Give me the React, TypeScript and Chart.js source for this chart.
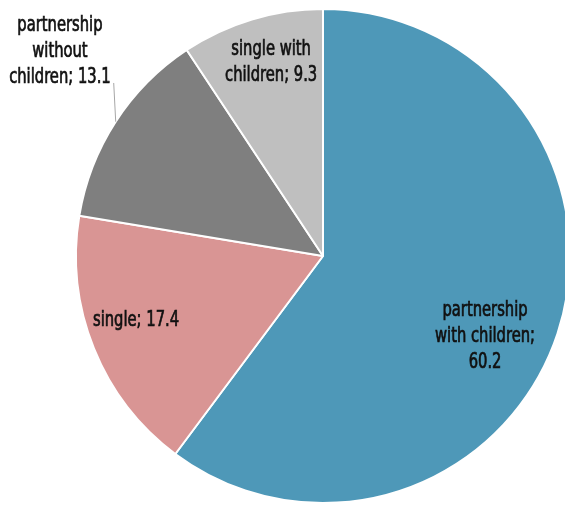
import React, { useEffect, useRef } from "react";
import { Chart, registerables } from "chart.js";

Chart.register(...registerables);

const categories = [
  "partnership with children",
  "single",
  "partnership without children",
  "single with children",
];
const values = [60.2, 17.4, 13.1, 9.3];
const colors = ["#4E98B8", "#D99594", "#7F7F7F", "#BFBFBF"];

const labelLines = [
  ["partnership", "with children;", "60.2"],
  ["single; 17.4"],
  ["partnership", "without", "children; 13.1"],
  ["single with", "children; 9.3"],
];
const labelOffsets = [
  [0.656, 0.328],
  [-0.757, 0.262],
  [-1.065, -0.826],
  [-0.21, -0.782],
];
const leader = [false, false, true, false];

const RADIUS = 247;
const CANVAS_W = 646;
const CANVAS_H = 512;
const FONT = 'condensed 21px "DejaVu Sans", sans-serif';
const TEXT_SCALE_X = 0.78;
const LINE_H = 26;
const TEXT_COLOR = "#111";

const labelPlugin = {
  id: "pieLabels",
  afterDraw(chart: any) {
    const ctx = chart.ctx;
    const meta = chart.getDatasetMeta(0);
    ctx.save();
    ctx.font = FONT;
    try { (ctx as any).fontStretch = "condensed"; } catch (e) {}
    ctx.textAlign = "center";
    ctx.textBaseline = "middle";
    meta.data.forEach((arc: any, i: number) => {
      const { x, y, outerRadius, startAngle, endAngle } = arc.getProps(
        ["x", "y", "outerRadius", "startAngle", "endAngle"],
        true
      );
      const lx = x + labelOffsets[i][0] * outerRadius;
      const ly = y + labelOffsets[i][1] * outerRadius;
      const lines = labelLines[i];
      const top = ly - ((lines.length - 1) * LINE_H) / 2;
      lines.forEach((t, k) => {
        ctx.save();
        ctx.translate(lx, top + k * LINE_H);
        ctx.scale(TEXT_SCALE_X, 1);
        ctx.fillStyle = TEXT_COLOR;
        ctx.strokeStyle = TEXT_COLOR;
        ctx.lineWidth = 0.7;
        ctx.fillText(t, 0, 0);
        ctx.strokeText(t, 0, 0);
        ctx.restore();
      });
      if (leader[i]) {
        const mid = (startAngle + endAngle) / 2;
        const ex = x + Math.cos(mid) * outerRadius;
        const ey = y + Math.sin(mid) * outerRadius;
        const lastW = ctx.measureText(lines[lines.length - 1]).width * TEXT_SCALE_X;
        const sx = lx + lastW / 2 + 3;
        const sy = top + (lines.length - 1) * LINE_H + 5;
        ctx.save();
        ctx.strokeStyle = "#A6A6A6";
        ctx.lineWidth = 1;
        ctx.beginPath();
        ctx.moveTo(sx, sy);
        ctx.lineTo(ex, ey);
        ctx.stroke();
        ctx.restore();
      }
    });
    ctx.restore();
  },
};

export default function App() {
  const ref = useRef<HTMLCanvasElement>(null);
  useEffect(() => {
    if (!ref.current) return;
    const chart = new Chart(ref.current, {
      type: "pie",
      data: {
        labels: categories,
        datasets: [
          {
            data: values,
            backgroundColor: colors,
            borderColor: "#FFFFFF",
            borderWidth: 2,
          },
        ],
      },
      options: {
        responsive: false,
        animation: false,
        radius: RADIUS,
        layout: { padding: 0 },
        plugins: {
          legend: { display: false },
          tooltip: { enabled: false },
        },
      } as any,
      plugins: [labelPlugin],
    });
    return () => chart.destroy();
  }, []);
  return (
    <div
      style={{
        position: "fixed",
        left: 0,
        top: 0,
        width: 565,
        height: 505,
        overflow: "hidden",
        background: "#fff",
      }}
    >
      <canvas ref={ref} width={CANVAS_W} height={CANVAS_H} style={{ display: "block" }} />
    </div>
  );
}
